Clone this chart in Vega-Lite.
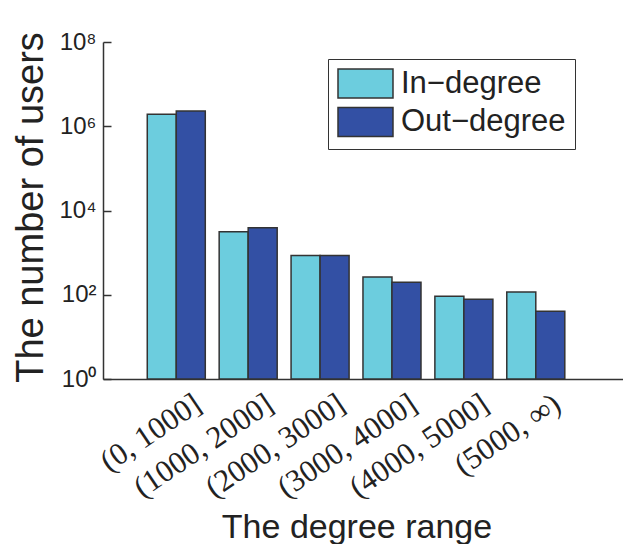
{
  "$schema": "https://vega.github.io/schema/vega-lite/v6.json",
  "width": 520,
  "height": 337,
  "autosize": {"type": "none"},
  "padding": {"left": 103, "top": 42, "right": 0, "bottom": 165},
  "background": "white",
  "data": {
    "values": [
      {"range": "(0, 1000]", "type": "In−degree", "users": 1940000},
      {"range": "(0, 1000]", "type": "Out−degree", "users": 2300000},
      {"range": "(1000, 2000]", "type": "In−degree", "users": 3150},
      {"range": "(1000, 2000]", "type": "Out−degree", "users": 3900},
      {"range": "(2000, 3000]", "type": "In−degree", "users": 850},
      {"range": "(2000, 3000]", "type": "Out−degree", "users": 850},
      {"range": "(3000, 4000]", "type": "In−degree", "users": 265},
      {"range": "(3000, 4000]", "type": "Out−degree", "users": 198},
      {"range": "(4000, 5000]", "type": "In−degree", "users": 92},
      {"range": "(4000, 5000]", "type": "Out−degree", "users": 78},
      {"range": "(5000, ∞)", "type": "In−degree", "users": 117},
      {"range": "(5000, ∞)", "type": "Out−degree", "users": 40.5}
    ]
  },
  "mark": {"type": "bar", "stroke": "#333333", "strokeWidth": 1.5},
  "encoding": {
    "x": {
      "field": "range",
      "type": "nominal",
      "sort": null,
      "scale": {"paddingInner": 0.193, "paddingOuter": 0.7125, "align": 0.432},
      "axis": {
        "ticks": false,
        "domainColor": "#333333",
        "domainWidth": 1.5,
        "labelAngle": -34,
        "labelAlign": "right",
        "labelBaseline": "middle",
        "labelFont": "Liberation Serif",
        "labelFontSize": 31,
        "labelColor": "#222222",
        "labelPadding": 22,
        "labelOffset": 22,
        "labelOverlap": false,
        "labelLimit": 0,
        "title": "The degree range",
        "titleFont": "Liberation Sans",
        "titleFontSize": 34,
        "titleFontWeight": "normal",
        "titleColor": "#222222",
        "titleX": 253.5,
        "titleY": 158,
        "titleAlign": "center",
        "titleBaseline": "alphabetic"
      }
    },
    "xOffset": {
      "field": "type",
      "type": "nominal",
      "sort": ["In−degree", "Out−degree"],
      "scale": {"paddingInner": 0, "paddingOuter": 0}
    },
    "y": {
      "field": "users",
      "type": "quantitative",
      "scale": {"type": "log", "domain": [1, 100000000]},
      "axis": {
        "values": [1, 100, 10000, 1000000, 100000000],
        "labelExpr": "datum.value == 1 ? '10⁰' : datum.value == 100 ? '10²' : datum.value == 10000 ? '10⁴' : datum.value == 1000000 ? '10⁶' : '10⁸'",
        "grid": false,
        "domainColor": "#333333",
        "domainWidth": 1.5,
        "tickColor": "#333333",
        "tickWidth": 1.5,
        "tickSize": -8,
        "labelFont": "Liberation Sans",
        "labelFontSize": 24,
        "labelColor": "#222222",
        "labelPadding": 15,
        "labelFlush": false,
        "labelOverlap": false,
        "title": "The number of users",
        "titleFont": "Liberation Sans",
        "titleFontSize": 38,
        "titleFontWeight": "normal",
        "titleColor": "#222222",
        "titleX": -61,
        "titleY": 165,
        "titleAngle": -90,
        "titleAlign": "center",
        "titleBaseline": "alphabetic"
      }
    },
    "y2": {"datum": 1},
    "color": {
      "field": "type",
      "type": "nominal",
      "scale": {"domain": ["In−degree", "Out−degree"], "range": ["#6CCDDE", "#3350A4"]},
      "legend": {
        "title": null,
        "orient": "none",
        "legendX": 225,
        "legendY": 17,
        "strokeColor": "#333333",
        "fillColor": "white",
        "padding": 9,
        "symbolType": "M-1,-1H2.793V1H-1Z",
        "symbolSize": 841,
        "symbolStrokeColor": "#333333",
        "symbolStrokeWidth": 1.5,
        "symbolOpacity": 1,
        "labelFont": "Liberation Sans",
        "labelFontSize": 31,
        "labelColor": "#222222",
        "labelOffset": 33,
        "labelLimit": 0,
        "rowPadding": 3.5
      }
    }
  },
  "config": {"view": {"stroke": null}}
}
